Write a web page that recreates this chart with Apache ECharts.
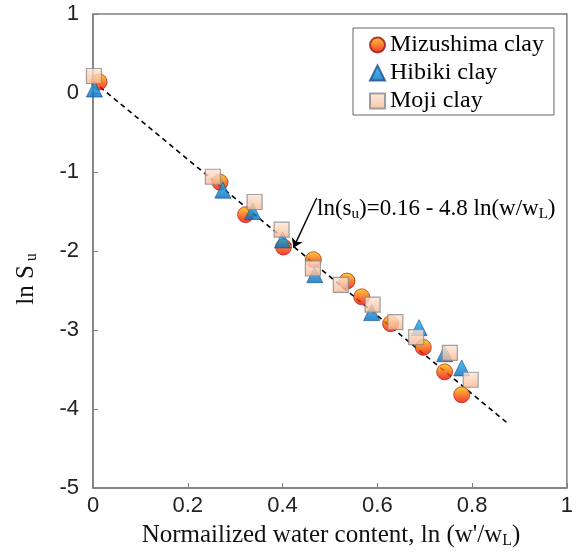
<!DOCTYPE html>
<html>
<head>
<meta charset="utf-8">
<script src="https://cdn.jsdelivr.net/npm/echarts@6/dist/echarts.min.js"></script>
<style>
  html, body { margin: 0; padding: 0; background: #fff; }
  #chart { width: 576px; height: 559px; }
</style>
</head>
<body>
<div id="chart"></div>
<script>
// values
const mizushimaX = [0.013, 0.268, 0.322, 0.402, 0.465, 0.536, 0.567, 0.628, 0.697, 0.742, 0.778]
const mizushimaY = [0.14, -1.13, -1.54, -1.95, -2.11, -2.38, -2.58, -2.92, -3.22, -3.53, -3.82]
const hibikiX = [0.003, 0.274, 0.337, 0.400, 0.468, 0.588, 0.688, 0.742, 0.778]
const hibikiY = [0.05, -1.23, -1.50, -1.86, -2.30, -2.78, -2.97, -3.30, -3.48]
const mojiX = [0.002, 0.253, 0.341, 0.398, 0.464, 0.523, 0.590, 0.638, 0.682, 0.753, 0.797]
const mojiY = [0.215, -1.06, -1.38, -1.73, -2.22, -2.43, -2.68, -2.90, -3.09, -3.29, -3.63]
const fitX = [0, 0.875]
const fitY = [0.15, -4.18]
const arrowFrom = [0.472, -1.33]
const arrowTo = [0.423, -1.96]

const pairs = (xs, ys) => xs.map((x, i) => [x, ys[i]])
const vgrad = (top, bottom) =>
  new echarts.graphic.LinearGradient(0, 0, 0, 1, [
    { offset: 0, color: top },
    { offset: 1, color: bottom }
  ])

const axisGray = '#7f7f7f'
const serif = '"Liberation Serif", "Times New Roman", serif'
const sans = '"Liberation Sans", Arial, sans-serif'

const chart = echarts.init(document.getElementById('chart'))
chart.setOption({
  animation: false,
  grid: {
    left: 93,
    top: 14,
    right: 6,
    bottom: 71,
    show: true,
    borderColor: axisGray,
    borderWidth: 1.5
  },
  legend: {
    left: 353,
    top: 28,
    orient: 'vertical',
    itemGap: 4,
    itemWidth: 15,
    itemHeight: 15,
    padding: [5, 10, 2, 16],
    borderColor: '#666',
    borderWidth: 1,
    textStyle: { fontFamily: serif, fontSize: 24, color: '#000' },
    data: ['Mizushima clay', 'Hibiki clay', 'Moji clay']
  },
  xAxis: {
    type: 'value',
    min: 0,
    max: 1,
    interval: 0.2,
    axisLine: { show: true, onZero: false, lineStyle: { color: axisGray, width: 1.5 } },
    axisTick: { show: true, inside: true, length: 5, lineStyle: { color: axisGray } },
    splitLine: { show: false },
    axisLabel: { fontFamily: sans, fontSize: 22, color: '#222', margin: 7 }
  },
  yAxis: {
    type: 'value',
    min: -5,
    max: 1,
    interval: 1,
    axisLine: { show: true, onZero: false, lineStyle: { color: axisGray, width: 1.5 } },
    axisTick: { show: true, inside: true, length: 5, lineStyle: { color: axisGray } },
    splitLine: { show: false },
    axisLabel: { fontFamily: sans, fontSize: 22, color: '#222', margin: 14 }
  },
  graphic: [
    {
      type: 'text',
      x: 331,
      y: 549,
      style: {
        text: "Normailized water content, ln (w'/w{sub|L})",
        fontFamily: serif,
        fontSize: 25,
        fill: '#111',
        align: 'center',
        verticalAlign: 'bottom',
        rich: {
          sub: { fontFamily: serif, fontSize: 16, fill: '#111', padding: [12, 0, 0, 0] }
        }
      }
    },
    {
      type: 'text',
      x: 26,
      y: 279,
      rotation: Math.PI / 2,
      style: {
        text: 'ln S{sub|u}',
        fontFamily: serif,
        fontSize: 25,
        fill: '#111',
        align: 'center',
        verticalAlign: 'middle',
        rich: {
          sub: { fontFamily: serif, fontSize: 16, fill: '#111', padding: [12, 0, 0, 4] }
        }
      }
    },
    {
      type: 'text',
      x: 317,
      y: 222,
      style: {
        text: 'ln(s{sub|u})=0.16 - 4.8 ln(w/w{sub|L})',
        fontFamily: serif,
        fontSize: 23,
        fill: '#000',
        align: 'left',
        verticalAlign: 'bottom',
        rich: {
          sub: { fontFamily: serif, fontSize: 15, fill: '#000', padding: [12, 0, 0, 0] }
        }
      }
    }
  ],
  series: [
    {
      name: 'fit',
      type: 'line',
      data: pairs(fitX, fitY),
      symbol: 'none',
      z: 1,
      lineStyle: { color: '#000', width: 1.6, type: [5, 4] },
      markLine: {
        silent: true,
        symbol: ['none', 'arrow'],
        symbolSize: 9,
        label: { show: false },
        lineStyle: { color: '#000', width: 1.4, type: 'solid' },
        data: [[{ coord: arrowFrom }, { coord: arrowTo }]]
      }
    },
    {
      name: 'Mizushima clay',
      type: 'scatter',
      data: pairs(mizushimaX, mizushimaY),
      symbol: 'circle',
      symbolSize: 16,
      z: 2,
      itemStyle: { color: vgrad('#ffc400', '#f00000'), borderColor: '#a01010', borderWidth: 0.8 }
    },
    {
      name: 'Hibiki clay',
      type: 'scatter',
      data: pairs(hibikiX, hibikiY),
      symbol: 'triangle',
      symbolSize: 16,
      z: 3,
      itemStyle: { color: vgrad('#1fb8f0', '#0068c0'), borderColor: '#1a4f8a', borderWidth: 0.8 }
    },
    {
      name: 'Moji clay',
      type: 'scatter',
      data: pairs(mojiX, mojiY),
      symbol: 'rect',
      symbolSize: 15,
      z: 4,
      itemStyle: { color: vgrad('#fde9dc', '#f7b58d'), borderColor: '#8a8a8a', borderWidth: 1.2 }
    }
  ]
})
</script>
</body>
</html>
